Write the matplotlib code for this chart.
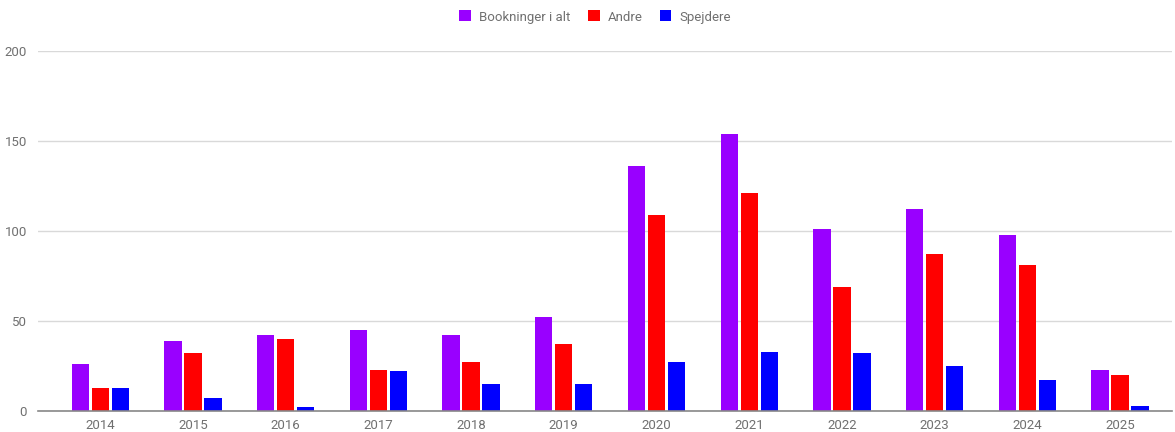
import matplotlib
matplotlib.use("Agg")
import matplotlib.pyplot as plt
import numpy as np
from matplotlib.patches import Patch

years = ["2014", "2015", "2016", "2017", "2018", "2019", "2020", "2021", "2022", "2023", "2024", "2025"]
bookninger = [26, 39, 42, 45, 42, 52, 136, 154, 101, 112, 98, 23]
andre = [13, 32, 40, 23, 27, 37, 109, 121, 69, 87, 81, 20]
spejdere = [13, 7, 2, 22, 15, 15, 27, 33, 32, 25, 17, 3]

series = [("Bookninger i alt", bookninger, "#9900ff"),
          ("Andre", andre, "#ff0000"),
          ("Spejdere", spejdere, "#0000ff")]

plt.rcParams['font.family'] = ['Roboto', 'DejaVu Sans']

W, H = 1175, 432
fig = plt.figure(figsize=(W / 100, H / 100), dpi=100)
ax_left, ax_right = 38, 1172
ax_bottom, ax_top = 411, 51
ax = fig.add_axes([ax_left / W, (H - ax_bottom) / H, (ax_right - ax_left) / W, (ax_bottom - ax_top) / H])

x = np.arange(len(years))
step = 92.7
xmin = -(100.3 - ax_left) / step
xmax = xmin + (ax_right - ax_left) / step
bw = 17.3 / step
off = 20.0 / step

for i, (name, vals, col) in enumerate(series):
    ax.bar(x + (i - 1) * off, vals, width=bw, color=col, label=name, zorder=3)

ax.set_xlim(xmin, xmax)
ax.set_ylim(0, 200)
ax.set_yticks([0, 50, 100, 150, 200])
ax.set_xticks(x)
ax.set_xticklabels(years)
ax.grid(axis='y', color='#d9d9d9', linewidth=1, zorder=0)
for s in ['top', 'right', 'left']:
    ax.spines[s].set_visible(False)
ax.spines['bottom'].set_color('#888888')
ax.spines['bottom'].set_linewidth(1.2)
ax.spines['bottom'].set_zorder(4)
ax.tick_params(axis='both', length=0, labelsize=9.5, labelcolor='#707070')
ax.tick_params(axis='x', pad=6)
ax.tick_params(axis='y', pad=8)

handles = [Patch(facecolor=c, edgecolor='none', label=n) for n, _, c in series]
fig.legend(handles=handles, loc='center', bbox_to_anchor=(0.5065, 1 - 17 / H), ncol=3, frameon=False,
           fontsize=9.5, labelcolor='#707070', handlelength=0.9, handleheight=0.9,
           handletextpad=0.6, columnspacing=1.3)

fig.savefig("out.png", dpi=100)
